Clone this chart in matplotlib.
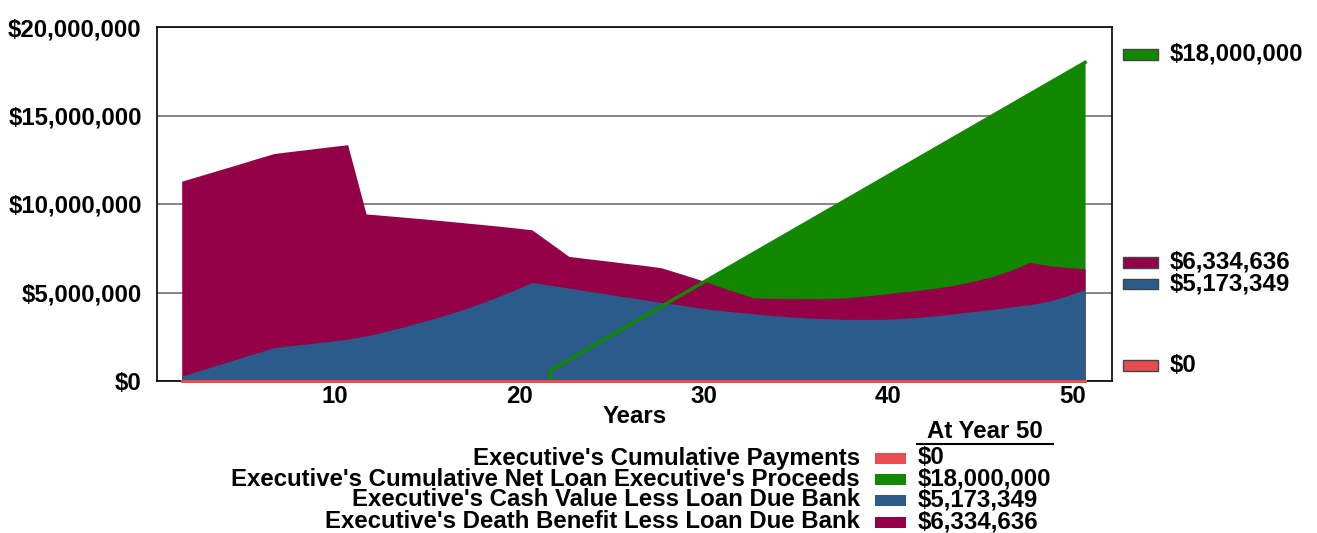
import matplotlib
matplotlib.use("Agg")
import matplotlib.pyplot as plt
from matplotlib.patches import Rectangle
from matplotlib.transforms import blended_transform_factory
from matplotlib.ticker import FuncFormatter

plt.rcParams['font.family'] = ['Liberation Sans', 'DejaVu Sans']
plt.rcParams['font.weight'] = 'bold'

# --- Data ---
years = list(range(1, 51))
cum_payments = [0] * 50
loan_years = list(range(21, 51))
net_loan = [600000, 1200000, 1800000, 2400000, 3000000, 3600000, 4200000, 4800000,
            5400000, 6000000, 6600000, 7200000, 7800000, 8400000, 9000000, 9600000,
            10200000, 10800000, 11400000, 12000000, 12600000, 13200000, 13800000,
            14400000, 15000000, 15600000, 16200000, 16800000, 17400000, 18000000]
cash_value = [280000, 600000, 920000, 1240000, 1570000, 1890000, 2000000, 2120000,
              2240000, 2360000, 2550000, 2780000, 3050000, 3330000, 3630000, 3950000,
              4300000, 4700000, 5120000, 5570000, 5410000, 5250000, 5090000, 4920000,
              4760000, 4600000, 4440000, 4300000, 4140000, 4010000, 3900000, 3800000,
              3700000, 3620000, 3560000, 3520000, 3490000, 3480000, 3490000, 3530000,
              3600000, 3700000, 3810000, 3930000, 4050000, 4180000, 4310000, 4500000,
              4800000, 5173349]
death_benefit = [11290000, 11600000, 11910000, 12220000, 12540000, 12850000, 12980000,
                 13100000, 13230000, 13350000, 9440000, 9350000, 9260000, 9170000,
                 9070000, 8970000, 8870000, 8770000, 8660000, 8540000, 7790000, 7040000,
                 6910000, 6790000, 6660000, 6540000, 6400000, 6080000, 5750000, 5400000,
                 5040000, 4700000, 4670000, 4660000, 4650000, 4660000, 4700000, 4790000,
                 4900000, 5020000, 5130000, 5260000, 5430000, 5650000, 5910000, 6260000,
                 6700000, 6520000, 6420000, 6334636]

series_names = ["Executive's Cumulative Payments",
                "Executive's Cumulative Net Loan Executive's Proceeds",
                "Executive's Cash Value Less Loan Due Bank",
                "Executive's Death Benefit Less Loan Due Bank"]
final_values = [cum_payments[-1], net_loan[-1], cash_value[-1], death_benefit[-1]]
xtick_labels = [10, 20, 30, 40, 50]

red, green, blue, maroon = '#e84c4f', '#118800', '#2a5b8a', '#930047'
colors = [red, green, blue, maroon]
FS = 17.3

W, H = 1317, 533
fig = plt.figure(figsize=(W / 100, H / 100), dpi=100)
ax = fig.add_axes([157 / W, 1 - 381 / H, 955 / W, 354 / H])

# --- Areas ---
ax.fill_between(loan_years, 0, net_loan, color=green, lw=0, zorder=1)
ax.fill_between(years, 0, death_benefit, color=maroon, lw=0, zorder=2)
ax.fill_between(years, 0, cash_value, color=blue, lw=0, zorder=3)
ax.plot([loan_years[0]] + loan_years, [0] + net_loan, color=green, lw=2.5, zorder=4)
ax.plot(years, cum_payments, color=red, lw=2.2, zorder=5, clip_on=False)

ax.set_xlim(-0.34, 51.46)
ax.set_ylim(0, 20000000)
ax.set_yticks([0, 5000000, 10000000, 15000000, 20000000])
ax.yaxis.set_major_formatter(FuncFormatter(lambda v, p: f"${v:,.0f}"))
# year labels sit a little left of the data points in the original
ax.set_xticks([t - 0.7 for t in xtick_labels], [str(t) for t in xtick_labels])
ax.tick_params(axis='both', length=0, labelsize=FS)
ax.tick_params(axis='y', pad=11)
ax.tick_params(axis='x', pad=3)
ax.set_xlabel('Years', fontsize=FS, fontweight='bold', labelpad=-2)
ax.grid(axis='y', color='#707070', lw=1.2)
ax.set_axisbelow(True)
for s in ax.spines.values():
    s.set_color('black')
    s.set_linewidth(1.2)

# --- Right-hand value labels ---
trans = blended_transform_factory(ax.transAxes, ax.transData)
label_y = [850000, 18450000, 5480000, 6700000]
for c, v, ly in zip(colors, final_values, label_y):
    ax.add_patch(Rectangle((1.0115, ly - 310000), 0.0366, 620000, transform=trans,
                           facecolor=c, edgecolor='#444444', lw=1, clip_on=False))
    ax.text(1.0607, ly, f"${v:,.0f}", transform=trans, fontsize=FS,
            fontweight='bold', va='center', ha='left')

# --- Bottom key ---
def fx(x):
    return x / W

def fy(y):
    return 1 - y / H

fig.text(fx(985), fy(432), 'At Year 50', fontsize=FS, fontweight='bold',
         ha='center', va='center')
fig.add_artist(plt.Line2D([fx(917), fx(1053)], [fy(444), fy(444)], color='black', lw=1.5))
row_y = [458, 479, 500, 522]
for name, c, v, ry in zip(series_names, colors, final_values, row_y):
    fig.text(fx(860), fy(ry), name, fontsize=FS, fontweight='bold', ha='right', va='center')
    fig.add_artist(Rectangle((fx(875), fy(ry + 5.5)), fx(31), 11 / H,
                             facecolor=c, edgecolor='none', transform=fig.transFigure))
    fig.text(fx(918), fy(ry), f"${v:,.0f}", fontsize=FS, fontweight='bold',
             ha='left', va='center')

fig.savefig('out.png', dpi=100)
